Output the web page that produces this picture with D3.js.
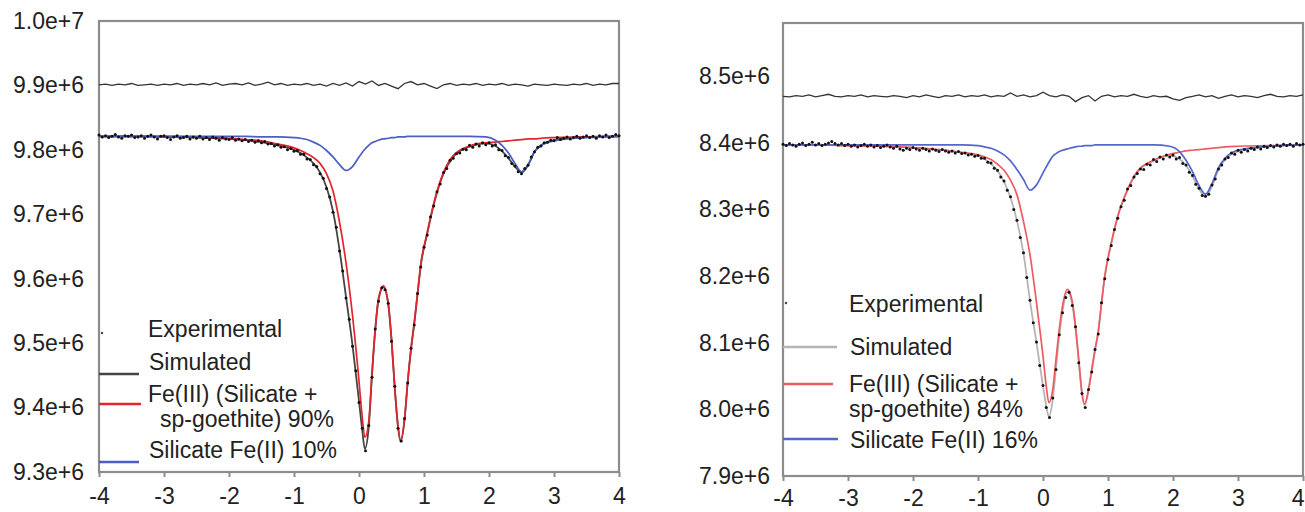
<!DOCTYPE html>
<html>
<head>
<meta charset="utf-8">
<script src="https://cdn.jsdelivr.net/npm/d3@7"></script>
<style>
  html, body { margin: 0; padding: 0; background: #fff; }
  svg text { font-family: "Liberation Sans", Arial, sans-serif; }
</style>
</head>
<body>
<svg id="chart" width="1305" height="512"></svg>
<script>
// Mossbauer spectra, counts in units of 1e6, velocity in mm/s

// velocity points for the fitted curves
const fitVel = [-4, -3.5, -3, -2.5, -2, -1.75, -1.5, -1.25, -1, -0.9, -0.8, -0.7, -0.6, -0.5, -0.4, -0.3, -0.2, -0.1, 0, 0.05, 0.09, 0.15, 0.2, 0.25, 0.3, 0.375, 0.45, 0.5, 0.55, 0.6, 0.64, 0.7, 0.75, 0.8, 0.85, 0.9, 0.95, 1.05, 1.15, 1.3, 1.45, 1.7, 1.95, 2.1, 2.2, 2.3, 2.4, 2.5, 2.6, 2.7, 2.8, 3, 3.5, 4];

// spectrometer channels: experimental points every 0.05, residual every 0.1
const expStart = -4, expStep = 0.05;
const resStart = -4, resStep = 0.1;

const xTicks = [-4, -3, -2, -1, 0, 1, 2, 3, 4];
const yTicksLeft = [9.3, 9.4, 9.5, 9.6, 9.7, 9.8, 9.9, 10.0];
const yTicksRight = [7.9, 8.0, 8.1, 8.2, 8.3, 8.4, 8.5];

const legendLeft = ["Experimental", "Simulated", "Fe(III) (Silicate +", "sp-goethite) 90%", "Silicate Fe(II) 10%"];
const legendRight = ["Experimental", "Simulated", "Fe(III) (Silicate +", "sp-goethite) 84%", "Silicate Fe(II) 16%"];

// ---- left spectrum ----
const simLeft = [9.821, 9.821, 9.820, 9.819, 9.817, 9.815, 9.812, 9.807, 9.800, 9.795, 9.788, 9.779, 9.765, 9.742, 9.705, 9.645, 9.572, 9.497, 9.410, 9.365, 9.336, 9.370, 9.450, 9.520, 9.567, 9.587, 9.560, 9.505, 9.430, 9.370, 9.347, 9.380, 9.440, 9.490, 9.530, 9.575, 9.620, 9.670, 9.715, 9.763, 9.789, 9.805, 9.810, 9.806, 9.798, 9.787, 9.774, 9.765, 9.776, 9.797, 9.807, 9.815, 9.820, 9.821];
const fe3Left = [9.821, 9.821, 9.821, 9.820, 9.818, 9.816, 9.814, 9.809, 9.803, 9.799, 9.794, 9.788, 9.779, 9.763, 9.736, 9.688, 9.625, 9.543, 9.441, 9.385, 9.354, 9.378, 9.455, 9.523, 9.569, 9.589, 9.562, 9.507, 9.432, 9.372, 9.349, 9.382, 9.442, 9.492, 9.532, 9.577, 9.622, 9.672, 9.717, 9.765, 9.791, 9.806, 9.811, 9.812, 9.813, 9.814, 9.815, 9.816, 9.817, 9.817, 9.818, 9.819, 9.820, 9.821];
const fe2Left = [9.821, 9.821, 9.821, 9.821, 9.821, 9.821, 9.820, 9.820, 9.819, 9.818, 9.816, 9.812, 9.807, 9.799, 9.789, 9.777, 9.768, 9.774, 9.789, 9.796, 9.801, 9.807, 9.811, 9.813, 9.815, 9.817, 9.818, 9.819, 9.819, 9.820, 9.820, 9.820, 9.821, 9.821, 9.821, 9.821, 9.821, 9.821, 9.821, 9.821, 9.821, 9.821, 9.820, 9.815, 9.807, 9.795, 9.779, 9.766, 9.777, 9.797, 9.807, 9.814, 9.819, 9.821];
const expLeft = [
  9.823, 9.820, 9.822, 9.819, 9.821, 9.824, 9.820, 9.818, 9.822, 9.821, 9.823, 9.819, 9.820, 9.822, 9.818, 9.821, 9.823, 9.820, 9.817, 9.821, 9.822,
  9.819, 9.816, 9.820, 9.822, 9.818, 9.819, 9.821, 9.817, 9.820, 9.818, 9.821, 9.817, 9.819, 9.816, 9.820, 9.818, 9.815, 9.819, 9.817, 9.816,
  9.819, 9.815, 9.817, 9.814, 9.816, 9.813, 9.815, 9.812, 9.814, 9.811, 9.813, 9.809, 9.810, 9.806, 9.808, 9.804, 9.805, 9.800, 9.802, 9.798,
  9.799, 9.793, 9.793, 9.786, 9.785, 9.777, 9.774, 9.763, 9.756, 9.740, 9.727, 9.703, 9.680, 9.643, 9.612, 9.570, 9.537, 9.495, 9.457, 9.408,
  9.368, 9.333, 9.372, 9.447, 9.522, 9.565, 9.586, 9.583, 9.562, 9.503, 9.433, 9.368, 9.348, 9.383, 9.438, 9.492, 9.528, 9.577, 9.618, 9.649,
  9.668, 9.696, 9.713, 9.735, 9.747, 9.765, 9.771, 9.784, 9.787, 9.794, 9.795, 9.801, 9.800, 9.807, 9.804, 9.809, 9.806, 9.811, 9.808, 9.811,
  9.806, 9.808, 9.800, 9.799, 9.791, 9.788, 9.779, 9.775, 9.766, 9.763, 9.771, 9.776, 9.789, 9.797, 9.804, 9.806, 9.811, 9.812, 9.815, 9.814,
  9.819, 9.816, 9.818, 9.820, 9.817, 9.819, 9.821, 9.818, 9.820, 9.822, 9.819, 9.821, 9.818, 9.822, 9.820, 9.823, 9.819, 9.821, 9.824, 9.822
];
const residLeft = [
  9.901, 9.902, 9.900, 9.902, 9.901, 9.903, 9.900, 9.901, 9.902, 9.900,
  9.902, 9.901, 9.903, 9.900, 9.902, 9.901, 9.903, 9.901, 9.904, 9.900,
  9.902, 9.903, 9.901, 9.904, 9.900, 9.902, 9.905, 9.901, 9.903, 9.900,
  9.902, 9.901, 9.903, 9.900, 9.902, 9.899, 9.903, 9.900, 9.904, 9.899,
  9.906, 9.902, 9.907, 9.900, 9.903, 9.899, 9.895, 9.903, 9.906, 9.901,
  9.903, 9.899, 9.895, 9.901, 9.903, 9.900, 9.902, 9.901, 9.903, 9.900,
  9.902, 9.901, 9.903, 9.900, 9.902, 9.901, 9.899, 9.902, 9.901, 9.900,
  9.902, 9.901, 9.900, 9.902, 9.901, 9.903, 9.900, 9.902, 9.901, 9.903,
  9.903
];

// ---- right spectrum ----
const simRight = [8.397, 8.397, 8.396, 8.395, 8.393, 8.391, 8.389, 8.385, 8.381, 8.376, 8.369, 8.358, 8.342, 8.318, 8.283, 8.234, 8.163, 8.100, 8.035, 8.005, 7.989, 8.015, 8.062, 8.110, 8.147, 8.176, 8.158, 8.122, 8.072, 8.022, 8.006, 8.028, 8.058, 8.088, 8.115, 8.158, 8.198, 8.248, 8.289, 8.329, 8.356, 8.373, 8.381, 8.376, 8.366, 8.350, 8.331, 8.319, 8.335, 8.360, 8.375, 8.387, 8.395, 8.397];
const fe3Right = [8.397, 8.397, 8.396, 8.395, 8.393, 8.391, 8.389, 8.386, 8.382, 8.379, 8.375, 8.368, 8.359, 8.344, 8.322, 8.282, 8.232, 8.160, 8.080, 8.035, 8.010, 8.030, 8.075, 8.120, 8.155, 8.180, 8.162, 8.125, 8.075, 8.025, 8.008, 8.030, 8.060, 8.090, 8.117, 8.160, 8.200, 8.250, 8.290, 8.330, 8.357, 8.374, 8.383, 8.386, 8.388, 8.389, 8.390, 8.391, 8.392, 8.393, 8.394, 8.395, 8.396, 8.397];
const fe2Right = [8.397, 8.397, 8.397, 8.397, 8.397, 8.397, 8.397, 8.397, 8.396, 8.394, 8.392, 8.388, 8.382, 8.373, 8.360, 8.345, 8.329, 8.337, 8.355, 8.364, 8.371, 8.380, 8.384, 8.387, 8.389, 8.391, 8.393, 8.394, 8.395, 8.395, 8.396, 8.396, 8.396, 8.397, 8.397, 8.397, 8.397, 8.397, 8.397, 8.397, 8.397, 8.397, 8.395, 8.387, 8.374, 8.357, 8.336, 8.323, 8.339, 8.363, 8.377, 8.389, 8.395, 8.397];
const expRight = [
  8.398, 8.396, 8.399, 8.397, 8.395, 8.398, 8.400, 8.396, 8.398, 8.401, 8.397, 8.399, 8.396, 8.398, 8.400, 8.402, 8.399, 8.397, 8.399, 8.396, 8.398,
  8.395, 8.397, 8.394, 8.396, 8.398, 8.395, 8.397, 8.394, 8.396, 8.393, 8.395, 8.397, 8.394, 8.392, 8.395, 8.391, 8.389, 8.392, 8.390, 8.393,
  8.391, 8.389, 8.392, 8.390, 8.388, 8.391, 8.389, 8.387, 8.390, 8.388, 8.386, 8.388, 8.385, 8.387, 8.384, 8.385, 8.382, 8.383, 8.380, 8.381,
  8.377, 8.377, 8.371, 8.370, 8.362, 8.359, 8.349, 8.343, 8.329, 8.319, 8.300, 8.284, 8.258, 8.235, 8.198, 8.164, 8.130, 8.101, 8.066, 8.036,
  8.003, 7.988, 8.017, 8.060, 8.112, 8.145, 8.168, 8.176, 8.156, 8.124, 8.070, 8.024, 8.003, 8.030, 8.056, 8.090, 8.113, 8.160, 8.196, 8.225,
  8.246, 8.270, 8.287, 8.304, 8.314, 8.331, 8.336, 8.349, 8.354, 8.361, 8.360, 8.368, 8.367, 8.375, 8.372, 8.379, 8.376, 8.382, 8.379, 8.382,
  8.376, 8.378, 8.369, 8.367, 8.356, 8.351, 8.338, 8.332, 8.321, 8.320, 8.323, 8.337, 8.346, 8.361, 8.367, 8.376, 8.378, 8.385, 8.383, 8.389,
  8.386, 8.390, 8.388, 8.392, 8.390, 8.394, 8.391, 8.395, 8.393, 8.396, 8.394, 8.397, 8.395, 8.398, 8.396, 8.398, 8.395, 8.399, 8.397, 8.398
];
const residRight = [
  8.470, 8.469, 8.471, 8.470, 8.472, 8.469, 8.471, 8.473, 8.470, 8.469,
  8.471, 8.470, 8.472, 8.469, 8.471, 8.470, 8.469, 8.471, 8.470, 8.468,
  8.471, 8.469, 8.472, 8.470, 8.468, 8.471, 8.470, 8.472, 8.469, 8.471,
  8.470, 8.472, 8.469, 8.471, 8.470, 8.475, 8.470, 8.472, 8.469, 8.471,
  8.476, 8.471, 8.469, 8.472, 8.470, 8.462, 8.468, 8.471, 8.463, 8.470,
  8.472, 8.469, 8.471, 8.470, 8.473, 8.470, 8.468, 8.471, 8.469, 8.470,
  8.466, 8.464, 8.468, 8.470, 8.472, 8.469, 8.471, 8.467, 8.470, 8.472,
  8.469, 8.471, 8.470, 8.468, 8.471, 8.473, 8.470, 8.469, 8.471, 8.470,
  8.472
];

const svg = d3.select("#chart");
const frameColor = "#8c8c8c";
const textColor = "#222";

const panels = [
  {
    left: 99, right: 619, top: 21, bottom: 472, yDomain: [9.3, 10.0], yTicks: yTicksLeft, yPad: 15, xPad: 11,
    sim: simLeft, fe3: fe3Left, fe2: fe2Left, exp: expLeft, resid: residLeft,
    simColor: "#444", fe3Color: "#e3262e", fe2Color: "#4b5ec4",
    legend: legendLeft, legendX: 148, textIndent: 160, markerY: 333,
    baselines: [337, 370, 402, 427, 458], lineY: [374, 404, 462], lineEnd: [139, 141, 139]
  },
  {
    left: 783, right: 1303, top: 23, bottom: 476, yDomain: [7.9, 8.58], yTicks: yTicksRight, yPad: 13, xPad: 9,
    sim: simRight, fe3: fe3Right, fe2: fe2Right, exp: expRight, resid: residRight,
    simColor: "#b5b5b5", fe3Color: "#ef5b62", fe2Color: "#5566cc",
    legend: legendRight, legendX: 849, textIndent: 849, markerY: 303,
    baselines: [312, 355, 392, 417, 448], lineY: [347, 384, 439], lineEnd: [837, 833, 838]
  }
];

panels.forEach(p => {
  const x = d3.scaleLinear().domain([-4, 4]).range([p.left, p.right]);
  const y = d3.scaleLinear().domain(p.yDomain).range([p.bottom, p.top]);
  const g = svg.append("g");

  // x axis with short outward ticks
  const xAxis = g.append("g")
    .attr("transform", `translate(0,${p.bottom})`)
    .call(d3.axisBottom(x).tickValues(xTicks).tickSize(5).tickSizeOuter(0)
      .tickPadding(p.xPad).tickFormat(d => String(d)));
  xAxis.select(".domain").remove();
  xAxis.selectAll("line").attr("stroke", frameColor).attr("stroke-width", 2);
  xAxis.selectAll("text").attr("font-size", 23).attr("fill", textColor)
    .attr("font-family", "Liberation Sans, Arial, sans-serif");

  // keep the last label inside the page when the panel touches the edge
  if (p.right > 1290) {
    xAxis.selectAll("text").filter(d => d === 4)
      .attr("text-anchor", "end").attr("dx", 1305 - p.right - 1);
  }

  // y axis, labels only
  const yAxis = g.append("g")
    .attr("transform", `translate(${p.left},0)`)
    .call(d3.axisLeft(y).tickValues(p.yTicks).tickSize(0).tickPadding(p.yPad)
      .tickFormat(d => d3.format(".1e")(d * 1e6)));
  yAxis.select(".domain").remove();
  yAxis.selectAll("text").attr("font-size", 23).attr("fill", textColor)
    .attr("font-family", "Liberation Sans, Arial, sans-serif");

  // plot frame
  g.append("rect")
    .attr("x", p.left).attr("y", p.top)
    .attr("width", p.right - p.left).attr("height", p.bottom - p.top)
    .attr("fill", "none").attr("stroke", frameColor).attr("stroke-width", 2.2);

  const fitLine = d3.line()
    .x((d, i) => x(fitVel[i]))
    .y(d => y(d))
    .curve(d3.curveMonotoneX);

  // residual trace near the top
  g.append("path")
    .datum(p.resid)
    .attr("d", d3.line().x((d, i) => x(resStart + i * resStep)).y(d => y(d)))
    .attr("fill", "none").attr("stroke", "#333").attr("stroke-width", 1.3);

  // simulated total
  g.append("path").datum(p.sim).attr("d", fitLine)
    .attr("fill", "none").attr("stroke", p.simColor).attr("stroke-width", 1.8);

  // Fe(III) component
  g.append("path").datum(p.fe3).attr("d", fitLine)
    .attr("fill", "none").attr("stroke", p.fe3Color).attr("stroke-width", 1.7);

  // Fe(II) component
  g.append("path").datum(p.fe2).attr("d", fitLine)
    .attr("fill", "none").attr("stroke", p.fe2Color).attr("stroke-width", 1.7);

  // experimental points
  g.selectAll("circle.exp")
    .data(p.exp)
    .enter()
    .append("circle")
    .attr("class", "exp")
    .attr("cx", (d, i) => x(expStart + i * expStep))
    .attr("cy", d => y(d))
    .attr("r", 1.5)
    .attr("fill", "#111");

  // legend
  const lg = g.append("g").attr("font-size", 23).attr("fill", textColor);
  lg.append("circle").attr("cx", p.left + 3).attr("cy", p.markerY).attr("r", 1.2).attr("fill", "#444");
  [p.simColor, p.fe3Color, p.fe2Color].forEach((c, i) => {
    lg.append("line")
      .attr("x1", p.left).attr("x2", p.lineEnd[i])
      .attr("y1", p.lineY[i]).attr("y2", p.lineY[i])
      .attr("stroke", c).attr("stroke-width", 2.5);
  });
  p.legend.forEach((t, i) => {
    lg.append("text")
      .attr("x", i === 3 ? p.textIndent : p.legendX - (i === 1 || i === 4 ? -1 : 0))
      .attr("y", p.baselines[i])
      .attr("fill", textColor)
      .text(t);
  });
});
</script>
</body>
</html>
